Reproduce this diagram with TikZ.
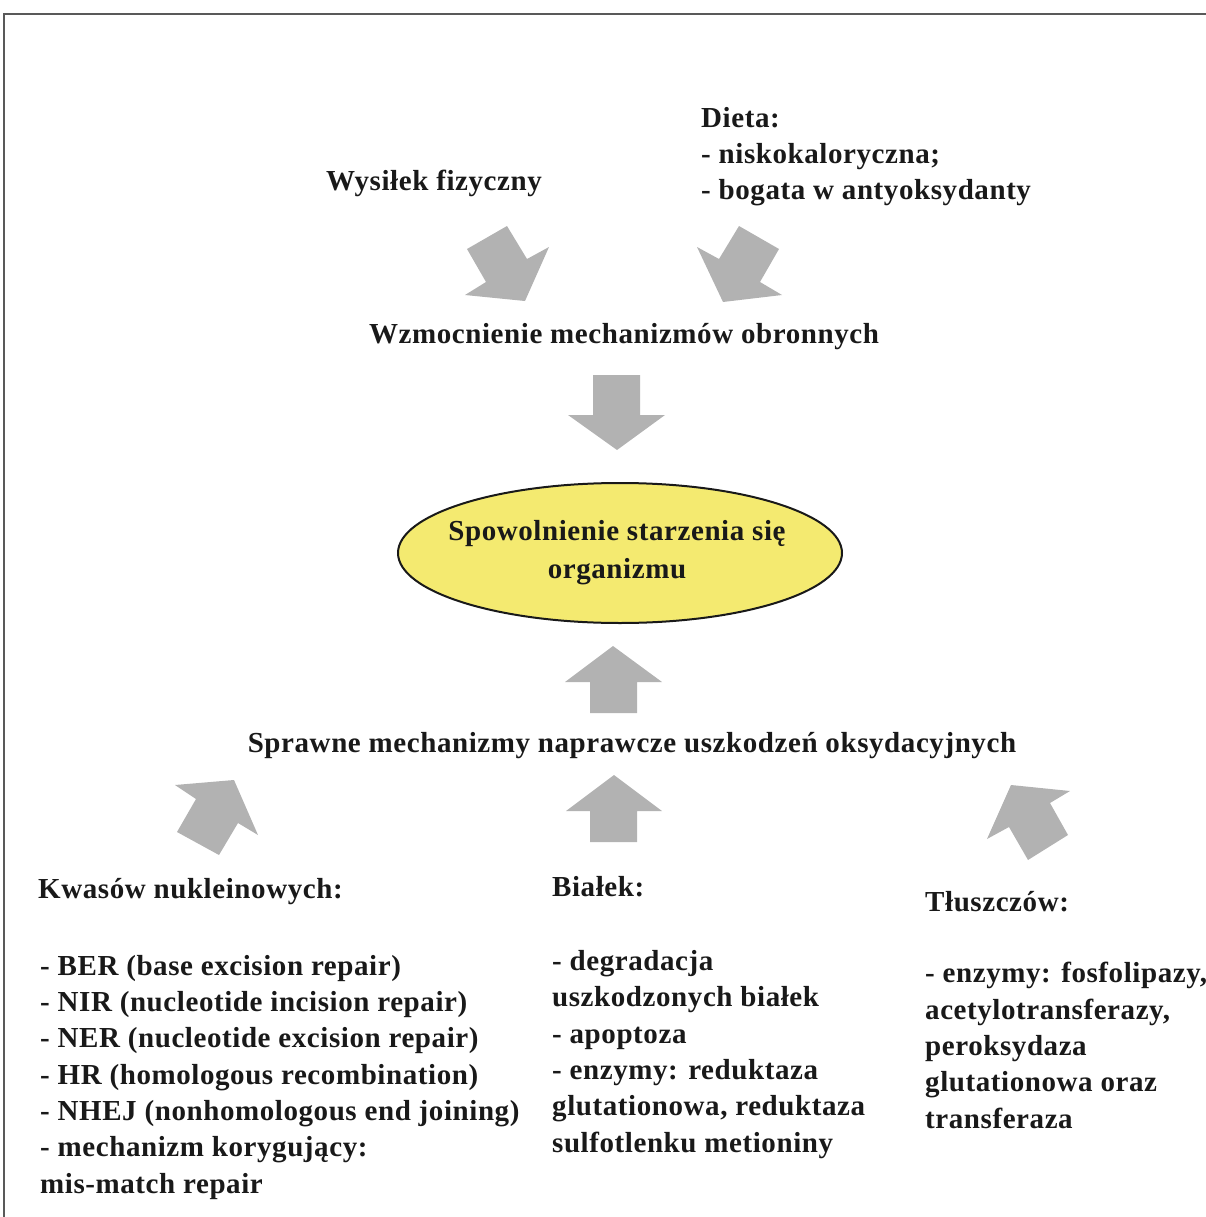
\documentclass[tikz,border=0pt]{standalone}
\usepackage{fontspec}
\setmainfont{Liberation Serif}[LetterSpace=2]
\usetikzlibrary{shapes.geometric}
\definecolor{goalyellow}{RGB}{244,234,112}
\begin{document}
\begin{tikzpicture}[x=1pt,y=-1pt,
  txt/.style={inner sep=0pt, font=\fontsize{29}{36.3}\selectfont\bfseries, text=black!90},
  blk/.style={txt, align=left, anchor=base west},
  bigarrow/.style={fill=gray!60, draw=none},
  frame/.style={draw=black!65, line width=1.4pt}
]
\useasboundingbox (0,0) rectangle (1206,1217);
% frame (top and left edges only visible)
\draw[frame] (1206,14) -- (4,14) -- (4,1217);

% top texts (multi-line blocks are anchored at the baseline of their last line)
\node[txt, anchor=base] (wys) at (434,190) {Wysiłek fizyczny};
\node[blk] (diet) at (701,200) {Dieta:\\- niskokaloryczna;\\- bogata w antyoksydanty};

% diagonal arrows (down)
\fill[bigarrow] (467,249) -- (507,226) -- (527,259) -- (549,247) -- (525,301) -- (465,295) -- (486,282) -- cycle;
\fill[bigarrow] (779,249) -- (739,226) -- (719,259) -- (697,247) -- (723,302) -- (782,295) -- (760,282) -- cycle;

\node[txt, anchor=base] (wzm) at (624,343) {Wzmocnienie mechanizmów obronnych};

% center down arrow
\fill[bigarrow] (593,375) -- (640,375) -- (640,415) -- (665,415) -- (617,450) -- (568,415) -- (593,415) -- cycle;

% ellipse
\node[draw=black!90, line width=2pt, fill=goalyellow, ellipse, minimum width=444pt, minimum height=140pt, inner sep=0pt] (goal) at (620,553) {};
\node[txt, anchor=base] (g1) at (617,540) {Spowolnienie starzenia się};
\node[txt, anchor=base] (g2) at (617,578) {organizmu};

% up arrow above Sprawne
\fill[bigarrow] (590,713) -- (590,682) -- (565,682) -- (613,646) -- (662,682) -- (637,682) -- (637,713) -- cycle;

\node[txt, anchor=base] (spr) at (632,752) {Sprawne mechanizmy naprawcze uszkodzeń oksydacyjnych};

% up arrow below Sprawne
\fill[bigarrow] (590,842) -- (590,811) -- (566,811) -- (614,775) -- (662,811) -- (637,811) -- (637,842) -- cycle;

% diagonal arrows (up)
\fill[bigarrow] (175,785) -- (234,780) -- (258,835) -- (238,823) -- (219,855) -- (177,832) -- (196,799) -- cycle;
\fill[bigarrow] (987,839) -- (1011,785) -- (1070,791) -- (1050,803) -- (1068,835) -- (1028,860) -- (1009,827) -- cycle;

% bottom columns
\node[blk] (kh) at (38,898) {Kwasów nukleinowych:};
\node[blk] (kl) at (40,1193) {- BER (base excision repair)\\- NIR (nucleotide incision repair)\\- NER (nucleotide excision repair)\\- HR (homologous recombination)\\- NHEJ (nonhomologous end joining)\\- mechanizm korygujący:\\mis-match repair};

\node[blk] (bh) at (552,896) {Białek:};
\node[blk] (bl) at (552,1152) {- degradacja\\uszkodzonych białek\\- apoptoza\\- enzymy: reduktaza\\glutationowa, reduktaza\\sulfotlenku metioniny};

\node[blk] (th) at (925,911) {Tłuszczów:};
\node[blk] (tl) at (925,1128) {- enzymy: fosfolipazy,\\acetylotransferazy,\\peroksydaza\\glutationowa oraz\\transferaza};
\end{tikzpicture}
\end{document}
